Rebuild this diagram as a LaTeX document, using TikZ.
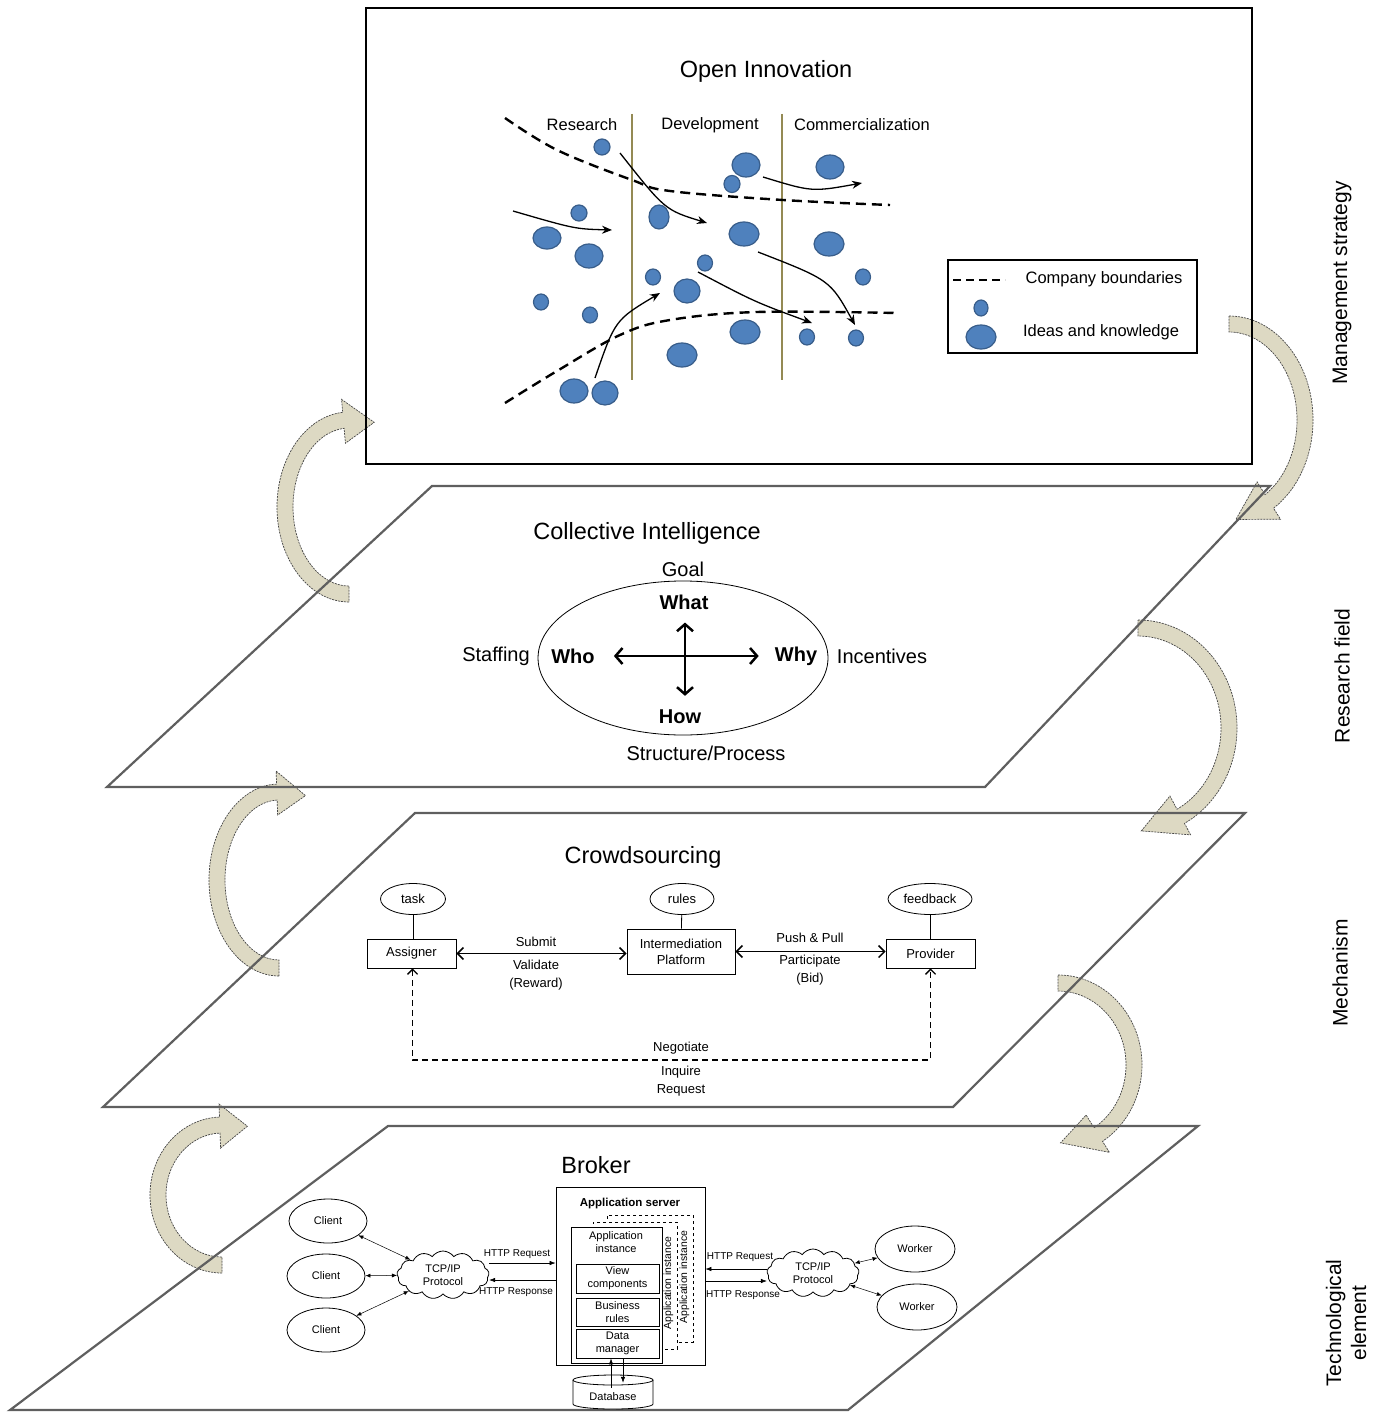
\documentclass[tikz,border=0pt]{standalone}
\usepackage{fontspec}
\setmainfont{Liberation Sans}
\usetikzlibrary{arrows.meta,shapes.geometric,shapes.symbols,calc}
\definecolor{ideafill}{RGB}{79,129,189}
\definecolor{ideadraw}{RGB}{56,93,138}
\definecolor{olivec}{RGB}{148,138,84}
\definecolor{beigec}{RGB}{221,217,195}
\definecolor{planec}{RGB}{95,95,95}
\definecolor{bentline}{RGB}{70,70,70}
\newcommand{\fsz}[2]{\fontsize{#1}{#2}\selectfont}
\newcommand{\bentarrow}[8]{%
 \pgfmathsetmacro{\zzOx}{#3+8}\pgfmathsetmacro{\zzOy}{#4+8}%
 \pgfmathsetmacro{\zzIx}{#3-8}\pgfmathsetmacro{\zzIy}{#4-8}%
 \pgfmathsetmacro{\zzsx}{#1+\zzOx*cos(#5)}\pgfmathsetmacro{\zzsy}{#2+\zzOy*sin(#5)}%
 \pgfmathsetmacro{\zzhox}{#1+(#3+21)*cos(#6)}\pgfmathsetmacro{\zzhoy}{#2+(#4+21)*sin(#6)}%
 \pgfmathsetmacro{\zztx}{#1+#3*#8*cos(#7)}\pgfmathsetmacro{\zzty}{#2+#4*#8*sin(#7)}%
 \pgfmathsetmacro{\zzhix}{#1+(#3-23)*cos(#6)}\pgfmathsetmacro{\zzhiy}{#2+(#4-23)*sin(#6)}%
 \pgfmathsetmacro{\zzix}{#1+\zzIx*cos(#6)}\pgfmathsetmacro{\zziy}{#2+\zzIy*sin(#6)}%
 \path[bentstyle] (\zzsx,\zzsy) arc[start angle=#5, end angle=#6, x radius=\zzOx, y radius=\zzOy]
   -- (\zzhox,\zzhoy) -- (\zztx,\zzty) -- (\zzhix,\zzhiy) -- (\zzix,\zziy)
   arc[start angle=#6, end angle=#5, x radius=\zzIx, y radius=\zzIy] -- cycle;}
\begin{document}
\begin{tikzpicture}[x=1pt,y=-1pt,
  bentstyle/.style={fill=beigec, draw=bentline, line width=0.7pt, dash pattern=on 2pt off 1pt},
  plane/.style={draw=planec, line width=2.2pt, line join=miter},
  title/.style={font=\fsz{23.5}{28}, inner sep=0pt},
  phase/.style={font=\fsz{16.5}{20}, inner sep=0pt},
  ci/.style={font=\fsz{20}{24}, inner sep=0pt},
  cib/.style={font=\fsz{20}{24}\bfseries, inner sep=0pt},
  cs/.style={font=\fsz{13}{16}, inner sep=0pt},
  br/.style={font=\fsz{11}{13}, inner sep=0pt},
  brs/.style={font=\fsz{10}{12}, inner sep=0pt},
  side/.style={font=\fsz{21}{25}, rotate=90, align=center, inner sep=0pt},
  idea/.style={fill=ideafill, draw=ideadraw, line width=1.2pt},
  oliveline/.style={draw=olivec, line width=2pt},
  boundary/.style={line width=2.4pt, dash pattern=on 10pt off 6pt},
  oiarrow/.style={line width=1.3pt, -{Stealth[length=10pt,width=8pt]}},
  ciarrow/.style={line width=2.5pt, {Straight Barb[length=7pt,width=16pt]}-{Straight Barb[length=7pt,width=16pt]}},
  csell/.style={draw, ellipse, cs, line width=0.8pt, minimum height=31pt, inner sep=0pt},
  csbox/.style={draw, rectangle, cs, line width=0.8pt, inner sep=0pt, align=center},
  csarrow/.style={line width=1.5pt, {Straight Barb[length=6pt,width=12pt]}-{Straight Barb[length=6pt,width=12pt]}},
  csdash/.style={line width=1.3pt, dash pattern=on 6pt off 4pt, {Straight Barb[length=5pt,width=10pt]}-{Straight Barb[length=5pt,width=10pt]}},
  brell/.style={draw, ellipse, br, line width=0.8pt, minimum width=78pt, minimum height=44pt},
  brcloud/.style={draw, cloud, cloud puffs=13, cloud puff arc=110, aspect=1.9, br, align=center, line width=0.8pt, minimum width=92pt, minimum height=48pt, inner sep=1pt},
  brbox/.style={draw, rectangle, br, align=center, line width=0.8pt, inner sep=0pt},
  brarrow/.style={line width=0.5pt, {Latex[length=5pt,width=4pt]}-{Latex[length=5pt,width=4pt]}},
  brone/.style={line width=0.6pt, -{Latex[length=6pt,width=4.5pt]}}
]
\useasboundingbox (0,0) rectangle (1383,1412);

% curved beige arrows (behind everything)
\bentarrow{1229}{420}{76}{96}{-90}{58}{85}{1.04}
\bentarrow{1138}{728}{91}{100}{-90}{62}{88}{1.03}
\bentarrow{1058}{1065}{76}{82}{-90}{58}{88}{0.95}
\bentarrow{349}{507}{64}{87}{90}{265}{292}{1.05}
\bentarrow{279}{880}{62}{88}{90}{268}{294}{1.05}
\bentarrow{222}{1195}{64}{70}{90}{268}{292}{1.06}

% planes
\draw[plane] (107,787) -- (432,486) -- (1270,486) -- (985,787) -- cycle;
\draw[plane] (103,1107) -- (415,813) -- (1245,813) -- (953,1107) -- cycle;
\draw[plane] (10,1410) -- (388,1126) -- (1198,1126) -- (848,1410) -- cycle;

% ---------- Open Innovation ----------
\draw[line width=2pt] (366,8) rectangle (1252,464);
\node[title] (oi) at (766,71) {Open Innovation};
\node[phase] (res) at (582,125) {Research};
\node[phase] (dev) at (710,125) {Development};
\node[phase] (com) at (862,125) {Commercialization};
\draw[oliveline] (632,114) -- (632,380);
\draw[oliveline] (782,114) -- (782,380);
\draw[boundary] plot[smooth, tension=0.6] coordinates {(505,118) (557,150) (632,180) (670,191) (783,200) (890,205)};
\draw[boundary] plot[smooth, tension=0.6] coordinates {(505,403) (557,371) (620,335) (670,320) (757,312) (897,313)};
\foreach \x/\y/\a/\b in {602/147/8/8, 746/165/14/12, 732/184/8/8.5, 830/167/14/12, 579/213/8/8,
  659/217/10/12, 547/238/14/11, 589/256/14/12, 744/234/15/12, 829/244/15/12, 705/263/7.5/8,
  653/277/7.5/8, 687/291/13/12, 863/277/7.5/8, 541/302/7.5/8, 590/315/7.5/8, 745/332/15/12,
  682/355/15/12, 807/337/7.5/8, 856/338/7.5/8, 574/391/14/12, 605/393/13/12}
  \draw[idea] (\x,\y) ellipse[x radius=\a, y radius=\b];
\draw[oiarrow] (513,211) .. controls (575,229) .. (612,230);
\draw[oiarrow] (620,153) .. controls (665,210) .. (707,223);
\draw[oiarrow] (763,177) .. controls (812,192) .. (862,183);
\draw[oiarrow] (595,378) .. controls (615,320) .. (660,293);
\draw[oiarrow] (698,272) .. controls (755,302) .. (812,323);
\draw[oiarrow] (758,252) .. controls (830,280) .. (855,325);
% legend
\draw[line width=1.5pt] (948,260) rectangle (1197,353);
\draw[line width=1.8pt, dash pattern=on 8pt off 5pt] (953,280) -- (1005,280);
\node[phase] (lg1) at (1104,279) {Company boundaries};
\draw[idea] (981,308) ellipse[x radius=7, y radius=8];
\draw[idea] (981,337) ellipse[x radius=15, y radius=12];
\node[phase] (lg2) at (1101,332) {Ideas and knowledge};

% ---------- Collective Intelligence ----------
\node[title] (cit) at (647,533) {Collective Intelligence};
\node[draw, ellipse, line width=0.8pt, minimum width=290pt, minimum height=154pt] (ciell) at (683,658) {};
\node[ci] (goal) at (683,569) {Goal};
\node[cib] (what) at (684,602) {What};
\node[cib] (who) at (573,656) {Who};
\node[cib] (why) at (796,656) {Why};
\node[cib] (how) at (680,717) {How};
\node[ci] (staff) at (496,656) {Staffing};
\node[ci] (inc) at (882,656) {Incentives};
\node[ci] (sp) at (706,753) {Structure/Process};
\draw[ciarrow] ([xshift=19pt]who.east) -- ([xshift=-16pt]why.west);
\draw[ciarrow] ([xshift=1pt,yshift=-13pt]what.south) -- ([xshift=5pt,yshift=14pt]how.north);

% ---------- Crowdsourcing ----------
\node[title] (cst) at (643,857) {Crowdsourcing};
\node[csell, minimum width=65pt] (task) at (413,899) {task};
\node[csell, minimum width=64pt] (rules) at (682,899) {rules};
\node[csell, minimum width=84pt] (fb) at (930,899) {feedback};
\node[csbox, minimum width=89pt, minimum height=29pt] (assigner) at (411.5,953.5) {Assigner};
\node[csbox, minimum width=108pt, minimum height=45pt] (platform) at (681,951.5) {Intermediation\\Platform};
\node[csbox, minimum width=89pt, minimum height=29pt] (provider) at (930.5,953.5) {Provider};
\draw[line width=0.8pt] (task) -- (task |- assigner.north);
\draw[line width=0.8pt] (rules) -- (platform);
\draw[line width=0.8pt] (fb) -- (fb |- provider.north);
\draw[csarrow] (assigner.east) -- (assigner.east -| platform.west);
\draw[csarrow] (platform.east) -- (platform.east -| provider.west);
\node[cs] (l1) at (536,942) {Submit};
\node[cs] (l2) at (536,965) {Validate};
\node[cs] (l3) at (536,984) {(Reward)};
\node[cs] (l4) at (810,938) {Push \& Pull};
\node[cs] (l5) at (810,961) {Participate};
\node[cs] (l6) at (810,979) {(Bid)};
\coordinate (neg) at (672,1060);
\draw[csdash] ([xshift=1pt]assigner.south) |- (neg) -| (provider.south);
\node[cs] (l7) at (681,1048) {Negotiate};
\node[cs] (l8) at (681,1072) {Inquire};
\node[cs] (l9) at (681,1090) {Request};

% ---------- Broker ----------
\node[title] (brt) at (596,1165) {Broker};
\node[draw, line width=0.8pt, minimum width=149pt, minimum height=178pt] (appsrv) at (630.5,1276) {};
\node[font=\fsz{11.5}{14}\bfseries, inner sep=0pt] (appsrvl) at (630,1204) {Application server};
\node[draw, dashed, line width=0.6pt, fill=white, minimum width=86pt, minimum height=127pt] (instB) at (650,1278.5) {};
\node[brs, font=\fsz{10.4}{12}, rotate=90] (instBl) at (684.5,1277) {Application instance};
\node[draw, dashed, line width=0.6pt, fill=white, minimum width=84pt, minimum height=127pt] (instA) at (635,1285.5) {};
\node[brs, font=\fsz{10.4}{12}, rotate=90] (instAl) at (668.5,1283) {Application instance};
\node[draw, line width=0.8pt, fill=white, minimum width=91pt, minimum height=136pt] (inst) at (616.5,1295) {};
\node[br, align=center] (instl) at (616,1242) {Application\\instance};
\node[brbox, minimum width=83pt, minimum height=29pt] (vc) at (617.5,1278.5) {View\\components};
\node[brbox, minimum width=83pt, minimum height=28pt] (bru) at (617.5,1312) {Business\\rules};
\node[brbox, minimum width=83pt, minimum height=29pt] (dm) at (617.5,1343.5) {Data\\manager};
% database cylinder
\draw[line width=0.8pt, fill=white] (573,1380) -- (573,1404) arc[start angle=180, end angle=0, x radius=40, y radius=5] -- (653,1380);
\draw[line width=0.8pt] (613,1380) ellipse[x radius=40, y radius=5];
\node[br] (db) at (613,1397) {Database};
\draw[brone] ([xshift=-2pt,yshift=5pt]db.north) -- ([xshift=-6.5pt]dm.south);
\draw[brone] ([xshift=5.5pt]dm.south) -- ([xshift=10pt,yshift=10pt]db.north);

\node[brell] (c1) at (328,1221) {Client};
\node[brell] (c2) at (326,1276) {Client};
\node[brell] (c3) at (326,1330) {Client};
\node[brcloud] (cloudL) at (443,1275) {TCP/IP\\Protocol};
\node[brcloud] (cloudR) at (813,1273) {TCP/IP\\Protocol};
\node[brell, minimum width=80pt, minimum height=46pt] (w1) at (915,1249) {Worker};
\node[brell, minimum width=80pt, minimum height=46pt] (w2) at (917,1307) {Worker};
\draw[brarrow] (c1) -- (cloudL);
\draw[brarrow] (c2) -- (cloudL);
\draw[brarrow] (c3) -- (cloudL);
\draw[brarrow] (cloudR) -- (w1);
\draw[brarrow] (cloudR) -- (w2);
\coordinate (yA) at (0,1263);
\coordinate (yB) at (0,1280);
\coordinate (yC) at (0,1269);
\coordinate (yD) at (0,1281);
\draw[brone] (cloudL.east |- yA) -- (appsrv.west |- yA);
\draw[brone] (appsrv.west |- yB) -- (cloudL.east |- yB);
\draw[brone] (cloudR.west |- yC) -- (appsrv.east |- yC);
\draw[brone] (appsrv.east |- yD) -- (cloudR.west |- yD);
\node[brs] (h1) at (517,1254) {HTTP Request};
\node[brs] (h2) at (516,1292) {HTTP Response};
\node[brs] (h3) at (740,1257) {HTTP Request};
\node[brs] (h4) at (743,1295) {HTTP Response};

% ---------- side labels ----------
\node[side] (ms) at (1342,283) {Management strategy};
\node[side] (rf) at (1342,676) {Research field};
\node[side] (mech) at (1340,973) {Mechanism};
\node[side] (te) at (1346,1323) {Technological\\element};
\end{tikzpicture}
\end{document}
